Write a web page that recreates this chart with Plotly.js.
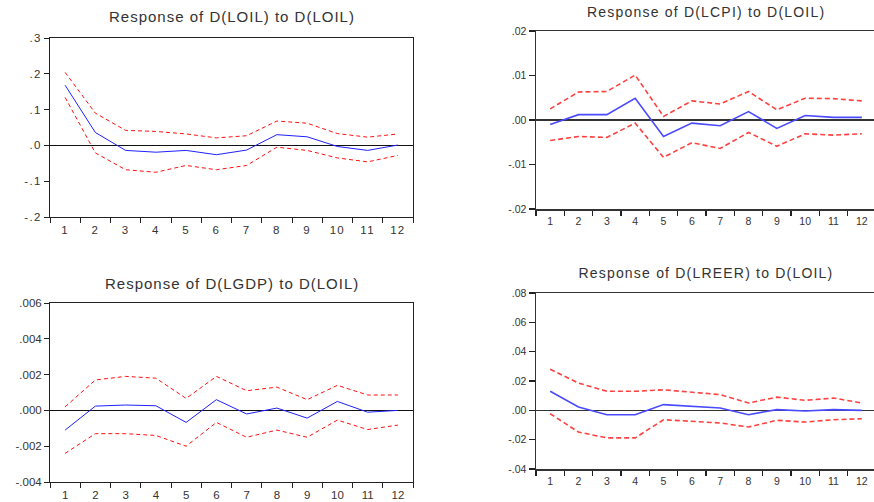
<!DOCTYPE html>
<html>
<head>
<meta charset="utf-8">
<script src="https://cdn.plot.ly/plotly-3.0.1.min.js"></script>
<style>
html,body{margin:0;padding:0;background:#fff;}
#chart{width:874px;height:502px;}
</style>
</head>
<body>
<div id="chart"></div>
<script>
const periods = ["1","2","3","4","5","6","7","8","9","10","11","12"];

// Response of D(LOIL) to D(LOIL)
const loilResp  = [0.168, 0.036, -0.014, -0.019, -0.014, -0.026, -0.013, 0.030, 0.024, -0.003, -0.014, 0.001];
const loilUpper = [0.204, 0.090, 0.042, 0.039, 0.032, 0.021, 0.027, 0.068, 0.062, 0.033, 0.023, 0.032];
const loilLower = [0.134, -0.021, -0.068, -0.075, -0.056, -0.068, -0.056, -0.005, -0.014, -0.035, -0.046, -0.028];

// Response of D(LCPI) to D(LOIL)
const cpiResp  = [-0.0010, 0.0012, 0.0012, 0.0049, -0.0037, -0.0007, -0.0013, 0.0019, -0.0019, 0.0010, 0.0006, 0.0006];
const cpiUpper = [0.0025, 0.0063, 0.0064, 0.0101, 0.0008, 0.0043, 0.0036, 0.0064, 0.0023, 0.0049, 0.0048, 0.0043];
const cpiLower = [-0.0046, -0.0037, -0.0039, -0.0007, -0.0084, -0.0051, -0.0064, -0.0028, -0.0059, -0.0031, -0.0034, -0.0031];

// Response of D(LGDP) to D(LOIL)
const gdpResp  = [-0.0011, 0.00024, 0.0003, 0.00026, -0.00067, 0.0006, -0.0002, 0.00013, -0.00043, 0.0005, -0.0001, 0.0];
const gdpUpper = [0.0002, 0.0017, 0.0019, 0.0018, 0.00067, 0.0019, 0.0011, 0.0013, 0.0006, 0.0014, 0.00086, 0.00086];
const gdpLower = [-0.0024, -0.0013, -0.0013, -0.0014, -0.0020, -0.00067, -0.0015, -0.0011, -0.0015, -0.00054, -0.00107, -0.00082];

// Response of D(LREER) to D(LOIL)
const reerResp  = [0.013, 0.0023, -0.003, -0.003, 0.0039, 0.0027, 0.0016, -0.003, 0.0005, -0.0005, 0.0005, 0.0];
const reerUpper = [0.028, 0.0186, 0.013, 0.013, 0.014, 0.0123, 0.0107, 0.005, 0.009, 0.0068, 0.0084, 0.005];
const reerLower = [-0.0023, -0.0148, -0.0188, -0.0188, -0.0064, -0.0077, -0.0086, -0.0114, -0.0068, -0.008, -0.0064, -0.0057];

const titles = ["Response of D(LOIL) to D(LOIL)", "Response of D(LCPI) to D(LOIL)",
                "Response of D(LGDP) to D(LOIL)", "Response of D(LREER) to D(LOIL)"];

const yTicks1 = [0.3, 0.2, 0.1, 0, -0.1, -0.2];
const yText1  = [".3", ".2", ".1", ".0", "-.1", "-.2"];
const yTicks2 = [0.02, 0.01, 0, -0.01, -0.02];
const yText2  = [".02", ".01", ".00", "-.01", "-.02"];
const yTicks3 = [0.006, 0.004, 0.002, 0, -0.002, -0.004];
const yText3  = [".006", ".004", ".002", ".000", "-.002", "-.004"];
const yTicks4 = [0.08, 0.06, 0.04, 0.02, 0, -0.02, -0.04];
const yText4  = [".08", ".06", ".04", ".02", ".00", "-.02", "-.04"];

const W = 874, H = 502;
function px(x){return x/W;}
function py(y){return 1 - y/H;}

const panels = [
  {resp: loilResp, up: loilUpper, lo: loilLower, yt: yTicks1, ytx: yText1, yr: [-0.2, 0.3],
   x0: 50, x1: 413, top: 38, bot: 217, ty: 17, left: true},
  {resp: cpiResp, up: cpiUpper, lo: cpiLower, yt: yTicks2, ytx: yText2, yr: [-0.02, 0.02],
   x0: 536, x1: 874, top: 31, bot: 209, ty: 12, left: false},
  {resp: gdpResp, up: gdpUpper, lo: gdpLower, yt: yTicks3, ytx: yText3, yr: [-0.004, 0.006],
   x0: 50, x1: 413, top: 303, bot: 482, ty: 283, left: true},
  {resp: reerResp, up: reerUpper, lo: reerLower, yt: yTicks4, ytx: yText4, yr: [-0.04, 0.08],
   x0: 536, x1: 874, top: 293, bot: 469, ty: 273, left: false}
];

const traces = [];
const layout = {
  width: W, height: H,
  margin: {l: 0, r: 0, t: 0, b: 0},
  paper_bgcolor: "#fff", plot_bgcolor: "#fff",
  showlegend: false,
  font: {family: "Liberation Sans, Arial, sans-serif", color: "#333"},
  annotations: []
};

panels.forEach((p, i) => {
  const n = i + 1;
  const xa = n === 1 ? "x" : "x" + n;
  const ya = n === 1 ? "y" : "y" + n;
  const blue = p.left ? "#2020ff" : "#4a4aff";
  const red = p.left ? "#ff1010" : "#ff4040";
  const lw = p.left ? 1 : 1.6;
  const dash = p.left ? "4px,3px" : "5px,3px";
  [p.up, p.lo].forEach(arr => traces.push({
    x: periods, y: arr, xaxis: xa, yaxis: ya, type: "scatter", mode: "lines",
    line: {color: red, width: lw, dash: dash}, hoverinfo: "skip"
  }));
  traces.push({
    x: periods, y: p.resp, xaxis: xa, yaxis: ya, type: "scatter", mode: "lines",
    line: {color: blue, width: lw}, hoverinfo: "skip"
  });
  const rmax = p.left ? 11.5 : 11.5 - (876 - 874) / ((876 - 536) / 12);
  const fs = p.left ? 11.5 : 10.5;
  layout["xaxis" + (n === 1 ? "" : n)] = {
    domain: [px(p.x0), px(p.x1)], anchor: ya, type: "category",
    range: [-0.5, rmax], tickson: "boundaries", ticks: "outside", ticklen: 5,
    tickwidth: p.left ? 1 : 1.5, tickcolor: "#222",
    showline: true, mirror: true, linecolor: p.left ? "#222" : "#333", linewidth: p.left ? 1 : 1.5,
    showgrid: false, zeroline: false, fixedrange: true,
    tickfont: {size: fs, color: "#333"}, ticklabelstandoff: 2
  };
  layout["yaxis" + (n === 1 ? "" : n)] = {
    domain: [py(p.bot), py(p.top)], anchor: xa, range: p.yr,
    tickvals: p.yt, ticktext: p.ytx, ticks: "outside", ticklen: p.left ? 5 : 6,
    tickwidth: p.left ? 1 : 1.5, tickcolor: "#222",
    showline: true, mirror: true, linecolor: p.left ? "#222" : "#333", linewidth: p.left ? 1 : 1.5,
    showgrid: false, zeroline: true, zerolinecolor: p.left ? "#111" : "#333", zerolinewidth: p.left ? 1 : 1.5,
    fixedrange: true, tickfont: {size: fs, color: "#333"}
  };
  layout.annotations.push({
    text: titles[i], xref: "paper", yref: "paper",
    x: px((p.x0 + (p.left ? p.x1 : 876)) / 2), y: py(p.ty),
    xanchor: "center", yanchor: "middle", showarrow: false,
    font: {size: p.left ? 15 : 14, color: "#333"}
  });
});

function applySpacing(gd) {
  gd.querySelectorAll(".annotation-text").forEach((t, k) => {
    t.style.letterSpacing = panels[k].left ? "1px" : "1.2px";
  });
  gd.querySelectorAll("g.xtick text, g.ytick text").forEach(t => {
    t.style.letterSpacing = "1.3px";
  });
}

Plotly.newPlot("chart", traces, layout, {staticPlot: true, displayModeBar: false}).then(applySpacing);
</script>
</body>
</html>
